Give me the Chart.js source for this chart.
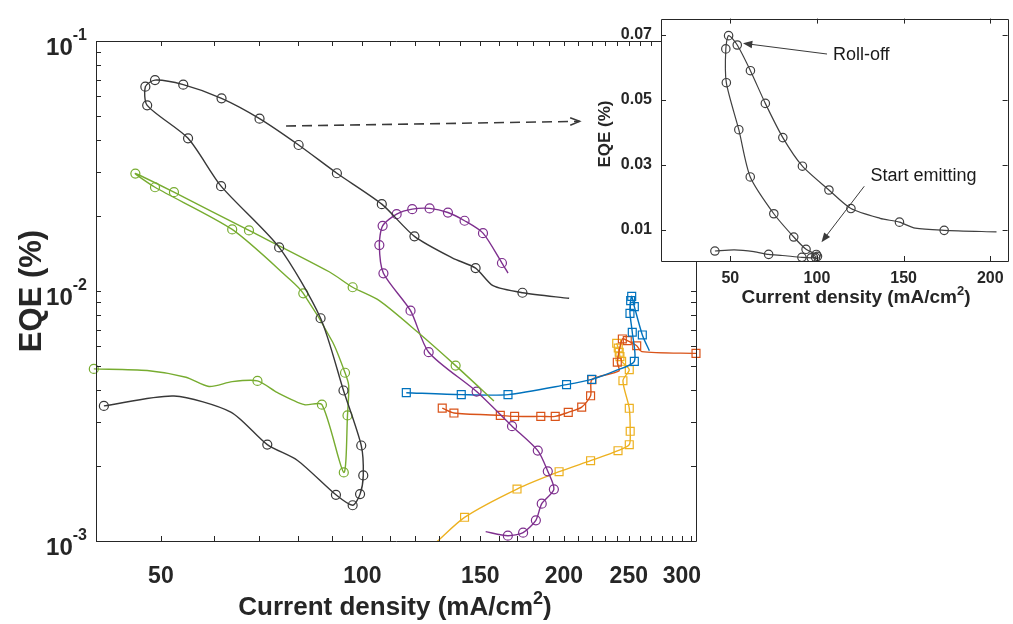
<!DOCTYPE html>
<html>
<head>
<meta charset="utf-8">
<script src="https://cdn.jsdelivr.net/npm/chart.js@4.4.0/dist/chart.umd.min.js"></script>
<style>
  body { margin: 0; background: #fff; }
  #wrap { position: relative; width: 1013px; height: 624px; }
  canvas { position: absolute; left: 0; top: 0; }
</style>
</head>
<body>
<div id="wrap">
  <canvas id="main" width="1013" height="624"></canvas>
  <canvas id="inset" width="1013" height="624"></canvas>
</div>
<script>
// Valores (densidade de corrente mA/cm2, EQE %)
const blackX = [41.1, 52.3, 63.6, 72.1, 80.0, 91.3, 96.7, 99.2, 100.3, 99.6, 93.7, 86.6, 75.1, 61.5, 54.9, 47.7, 47.4, 49.0, 54.0, 61.6, 70.2, 80.3, 91.6, 106.9, 119.6, 136.4, 147.6, 156.7, 173.4, 203.6];
const blackY = [0.00347, 0.0038, 0.00328, 0.00243, 0.0021, 0.00153, 0.00139, 0.00154, 0.00183, 0.00241, 0.0040, 0.00778, 0.01494, 0.02626, 0.04081, 0.05528, 0.06567, 0.06975, 0.06687, 0.05896, 0.04891, 0.03837, 0.02958, 0.02225, 0.01654, 0.01354, 0.01235, 0.0105, 0.00984, 0.00935];
const blackPlain = [1, 2, 4, 25, 27, 29];

const greenX = [39.7, 47.7, 54.5, 59.0, 63.9, 69.7, 74.7, 81.9, 87.0, 93.8, 95.0, 95.4, 94.2, 90.3, 81.6, 77.8, 63.9, 49.0, 45.8, 52.3, 67.7, 89.2, 96.7, 106.0, 121.0, 137.8, 157.2];
const greenY = [0.00488, 0.00481, 0.00452, 0.00415, 0.00434, 0.00437, 0.00392, 0.00351, 0.00351, 0.00188, 0.00318, 0.00419, 0.00471, 0.00624, 0.00979, 0.01117, 0.01763, 0.026, 0.0295, 0.02484, 0.01747, 0.01194, 0.01035, 0.00915, 0.00684, 0.00503, 0.00363];
const greenPlain = [1, 2, 3, 4, 6, 7, 11, 13, 15, 21, 23, 24, 26];

const purpleX = [152.8, 164.9, 173.8, 181.6, 185.3, 193.2, 189.2, 182.8, 167.3, 148.1, 125.6, 118.0, 107.5, 106.0, 107.2, 112.5, 118.7, 126.0, 134.2, 142.1, 151.4, 161.6, 165.0];
const purpleY = [0.00109, 0.00105, 0.00108, 0.00121, 0.00141, 0.00161, 0.0019, 0.0023, 0.00288, 0.00396, 0.00569, 0.00834, 0.01177, 0.01526, 0.01823, 0.0203, 0.02125, 0.0214, 0.0206, 0.0191, 0.01704, 0.01294, 0.0118];
const purplePlain = [0, 22];

const blueX = [116.3, 140.5, 165.0, 201.8, 220.0, 238.4, 254.8, 253.0, 251.0, 251.6, 252.5, 254.8, 261.9, 268.3];
const blueY = [0.00392, 0.00385, 0.00385, 0.00422, 0.00443, 0.00479, 0.00523, 0.00684, 0.00814, 0.00915, 0.00952, 0.00866, 0.00667, 0.00577];
const bluePlain = [5, 13];

const orangeX = [131.6, 137.0, 160.7, 168.8, 184.7, 194.1, 203.0, 212.6, 219.2, 220.2, 241.7, 240.3, 244.5, 248.7, 256.9, 261.4, 315];
const orangeY = [0.0034, 0.00325, 0.00318, 0.00315, 0.00315, 0.00315, 0.00327, 0.00343, 0.00381, 0.00442, 0.00479, 0.00519, 0.00643, 0.00633, 0.00604, 0.00572, 0.00563];
const orangePlain = [10, 15];

const yellowX = [129.0, 142.1, 170.2, 196.7, 219.2, 240.9, 250.4, 251.2, 250.4, 245.0, 250.4, 243.9, 242.5, 241.9, 241.1, 239.8];
const yellowY = [0.00099, 0.001244, 0.001614, 0.001893, 0.002095, 0.002297, 0.002428, 0.002747, 0.003395, 0.004377, 0.004844, 0.005234, 0.005461, 0.005686, 0.005916, 0.006178];
const yellowPlain = [0];

// Ticks
const mainXMajor = [50, 100, 150, 200, 250, 300];
const mainXMinor = [60, 70, 80, 90, 110, 120, 130, 140, 160, 170, 180, 190, 210, 220, 230, 240, 260, 270, 280, 290, 310];
const mainYMajor = [0.001, 0.01, 0.1];
const mainYMinor = [0.002, 0.003, 0.004, 0.005, 0.006, 0.007, 0.008, 0.009, 0.02, 0.03, 0.04, 0.05, 0.06, 0.07, 0.08, 0.09];
const insetXTicks = [50, 100, 150, 200];
const insetYTicks = [0.01, 0.03, 0.05, 0.07];

// Setas e anotações (coordenadas de dados)
const zoomArrow = [[76.9, 0.0457], [211, 0.0477]];
const rollOffArrow = [[105.8, 0.0641], [57.3, 0.0674]];
const startArrow = [[127.3, 0.0234], [102.6, 0.0062]];
const rollOffText = [109.2, 0.0637];
const startText = [130.9, 0.0265];

const FONT = '"Liberation Sans", Arial, sans-serif';
const AXIS = '#262626';

const pts = (xs, ys) => xs.map((x, i) => ({ x, y: ys[i] }));

const serie = (xs, ys, plain, color, style, r, extra) => Object.assign({
    data: pts(xs, ys),
    showLine: true,
    borderColor: color,
    borderWidth: 1.4,
    tension: 0.25,
    pointStyle: style,
    pointRadius: c => plain.includes(c.dataIndex) ? 0 : r,
    pointBorderColor: color,
    pointBackgroundColor: 'rgba(0,0,0,0)',
    pointBorderWidth: 1.2
}, extra || {});

const setTicks = values => scale => { scale.ticks = values.map(v => ({ value: v })); };

// Moldura com ticks para dentro (estilo MATLAB)
const frame = {
    id: 'frame',
    beforeDraw(chart, args, opts) {
        if (!opts.fill) return;
        const { ctx, chartArea: a } = chart;
        ctx.save();
        ctx.fillStyle = opts.fill;
        ctx.fillRect(a.left, a.top, a.right - a.left, a.bottom - a.top);
        ctx.restore();
    },
    afterDatasetsDraw(chart, args, opts) {
        const { ctx, chartArea: a, scales } = chart;
        const len = opts.len || 5;
        ctx.save();
        ctx.strokeStyle = AXIS;
        ctx.lineWidth = 1;
        ctx.beginPath();
        ctx.rect(Math.round(a.left) + 0.5, Math.round(a.top) + 0.5, Math.round(a.right - a.left), Math.round(a.bottom - a.top));
        scales.x.ticks.forEach(t => {
            const p = Math.round(scales.x.getPixelForValue(t.value)) + 0.5;
            ctx.moveTo(p, a.bottom); ctx.lineTo(p, a.bottom - len);
            ctx.moveTo(p, a.top); ctx.lineTo(p, a.top + len);
        });
        scales.y.ticks.forEach(t => {
            const p = Math.round(scales.y.getPixelForValue(t.value)) + 0.5;
            ctx.moveTo(a.left, p); ctx.lineTo(a.left + len, p);
            ctx.moveTo(a.right, p); ctx.lineTo(a.right - len, p);
        });
        ctx.stroke();
        ctx.restore();
    }
};

// Texto com expoente
const supText = (ctx, cx, cy, base, sup, tail, size) => {
    const ss = Math.round(size * 0.68);
    ctx.font = `bold ${size}px ${FONT}`;
    const wb = ctx.measureText(base).width, wt = ctx.measureText(tail).width;
    ctx.font = `bold ${ss}px ${FONT}`;
    const ws = ctx.measureText(sup).width;
    let x = cx - (wb + ws + wt) / 2;
    const y = cy + size * 0.36;
    ctx.textAlign = 'left';
    ctx.textBaseline = 'alphabetic';
    ctx.font = `bold ${size}px ${FONT}`;
    ctx.fillText(base, x, y);
    ctx.font = `bold ${ss}px ${FONT}`;
    ctx.fillText(sup, x + wb, y - size * 0.42);
    ctx.font = `bold ${size}px ${FONT}`;
    ctx.fillText(tail, x + wb + ws, y);
};

const vTitle = (ctx, cx, cy, text, size) => {
    ctx.save();
    ctx.translate(cx, cy);
    ctx.rotate(-Math.PI / 2);
    ctx.font = `bold ${size}px ${FONT}`;
    ctx.textAlign = 'center';
    ctx.textBaseline = 'middle';
    ctx.fillText(text, 0, 0);
    ctx.restore();
};

const arrow = (ctx, x1, y1, x2, y2, head, filled) => {
    const ang = Math.atan2(y2 - y1, x2 - x1);
    ctx.beginPath();
    ctx.moveTo(x1, y1);
    ctx.lineTo(filled ? x2 - Math.cos(ang) * head * 0.8 : x2, filled ? y2 - Math.sin(ang) * head * 0.8 : y2);
    ctx.stroke();
    ctx.setLineDash([]);
    ctx.beginPath();
    ctx.moveTo(x2 - head * Math.cos(ang - 0.38), y2 - head * Math.sin(ang - 0.38));
    ctx.lineTo(x2, y2);
    ctx.lineTo(x2 - head * Math.cos(ang + 0.38), y2 - head * Math.sin(ang + 0.38));
    if (filled) { ctx.closePath(); ctx.fill(); } else ctx.stroke();
};

const mainTexts = {
    id: 'mainTexts',
    afterDraw(chart) {
        const { ctx, scales } = chart;
        ctx.save();
        ctx.fillStyle = AXIS;
        // rótulos 10^n do eixo y
        mainYMajor.forEach(v => {
            const p = scales.y.getPixelForValue(v);
            const ex = String(Math.round(Math.log10(v)));
            ctx.font = `bold 16px ${FONT}`;
            const we = ctx.measureText(ex).width;
            ctx.textAlign = 'right';
            ctx.textBaseline = 'alphabetic';
            ctx.fillText(ex, 87, p - 1);
            ctx.font = `bold 24px ${FONT}`;
            ctx.fillText('10', 87 - we, p + 14);
        });
        supText(ctx, 395, 606, 'Current density (mA/cm', '2', ')', 26);
        vTitle(ctx, 32, 291, 'EQE (%)', 31);
        // seta tracejada
        ctx.strokeStyle = '#3a3a3a';
        ctx.fillStyle = '#3a3a3a';
        ctx.lineWidth = 1.6;
        ctx.setLineDash([10, 6]);
        const [a, b] = zoomArrow;
        arrow(ctx, scales.x.getPixelForValue(a[0]), scales.y.getPixelForValue(a[1]),
              scales.x.getPixelForValue(b[0]), scales.y.getPixelForValue(b[1]), 10, false);
        ctx.restore();
    }
};

const insetTexts = {
    id: 'insetTexts',
    afterDraw(chart) {
        const { ctx, scales } = chart;
        const px = p => [scales.x.getPixelForValue(p[0]), scales.y.getPixelForValue(p[1])];
        ctx.save();
        ctx.fillStyle = AXIS;
        supText(ctx, 856, 296, 'Current density (mA/cm', '2', ')', 19);
        vTitle(ctx, 605, 134, 'EQE (%)', 17);
        ctx.strokeStyle = '#3a3a3a';
        ctx.fillStyle = '#3a3a3a';
        ctx.lineWidth = 1;
        [rollOffArrow, startArrow].forEach(([s, e]) => {
            const [x1, y1] = px(s), [x2, y2] = px(e);
            arrow(ctx, x1, y1, x2, y2, 10, true);
        });
        ctx.fillStyle = '#1a1a1a';
        ctx.font = `18px ${FONT}`;
        ctx.textAlign = 'left';
        ctx.textBaseline = 'middle';
        let [tx, ty] = px(rollOffText);
        ctx.fillText('Roll-off', tx, ty);
        [tx, ty] = px(startText);
        ctx.fillText('Start emitting', tx, ty);
        ctx.restore();
    }
};

const GRAY = '#383838';

new Chart(document.getElementById('main'), {
    type: 'scatter',
    data: {
        datasets: [
            serie(blackX, blackY, blackPlain, GRAY, 'circle', 4.5),
            serie(greenX, greenY, greenPlain, '#77AC30', 'circle', 4.5, { clip: false }),
            serie(purpleX, purpleY, purplePlain, '#7E2F8E', 'circle', 4.5),
            serie(blueX, blueY, bluePlain, '#0072BD', 'rect', 5.6),
            serie(orangeX, orangeY, orangePlain, '#D95319', 'rect', 5.6, { clip: false }),
            serie(yellowX, yellowY, yellowPlain, '#EDB120', 'rect', 5.6)
        ]
    },
    options: {
        responsive: false,
        devicePixelRatio: 1,
        animation: false,
        events: [],
        layout: { padding: { top: 41, right: 317, left: 0, bottom: 0 } },
        plugins: { legend: { display: false }, tooltip: { enabled: false }, frame: { len: 5 } },
        scales: {
            x: {
                type: 'logarithmic', min: 40, max: 315,
                afterFit: s => { s.height = 83; },
                afterBuildTicks: setTicks([...mainXMajor, ...mainXMinor].sort((a, b) => a - b)),
                grid: { display: false, drawTicks: false },
                border: { display: false },
                ticks: {
                    autoSkip: false, maxRotation: 0, padding: 22, color: AXIS,
                    font: { family: FONT, size: 23, weight: 'bold' },
                    callback: v => mainXMajor.includes(v) ? String(v) : ''
                }
            },
            y: {
                type: 'logarithmic', min: 0.001, max: 0.1,
                afterFit: s => { s.width = 96; },
                afterBuildTicks: setTicks([...mainYMajor, ...mainYMinor].sort((a, b) => a - b)),
                grid: { display: false, drawTicks: false },
                border: { display: false },
                ticks: { display: false }
            }
        }
    },
    plugins: [frame, mainTexts]
});

new Chart(document.getElementById('inset'), {
    type: 'scatter',
    data: {
        datasets: [serie(blackX, blackY, blackPlain, '#404040', 'circle', 4.2, { borderWidth: 1.2 })]
    },
    options: {
        responsive: false,
        devicePixelRatio: 1,
        animation: false,
        events: [],
        layout: { padding: { top: 14, right: 1, left: 0, bottom: 0 } },
        plugins: { legend: { display: false }, tooltip: { enabled: false }, frame: { len: 5, fill: '#ffffff' } },
        scales: {
            x: {
                type: 'linear', min: 10, max: 210,
                afterFit: s => { s.height = 363; },
                afterBuildTicks: setTicks(insetXTicks),
                grid: { display: false, drawTicks: false },
                border: { display: false },
                ticks: {
                    autoSkip: false, maxRotation: 0, padding: 8, color: AXIS,
                    font: { family: FONT, size: 16, weight: 'bold' },
                    callback: v => String(v)
                }
            },
            y: {
                type: 'linear', min: 0.0004, max: 0.075,
                afterFit: s => { s.width = 661; },
                afterBuildTicks: setTicks(insetYTicks),
                grid: { display: false, drawTicks: false },
                border: { display: false },
                ticks: {
                    autoSkip: false, padding: 9, color: AXIS,
                    font: { family: FONT, size: 16, weight: 'bold' },
                    callback: v => v.toFixed(2)
                }
            }
        }
    },
    plugins: [frame, insetTexts]
});
</script>
</body>
</html>
